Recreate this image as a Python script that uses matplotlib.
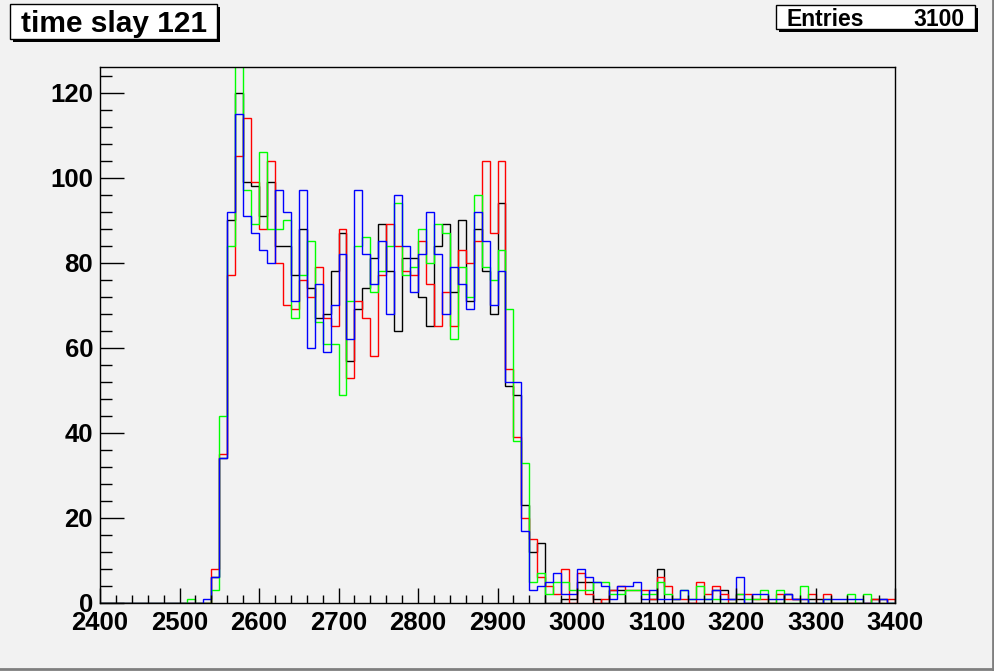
"""
time slay 121 -- four overlaid step histograms, ROOT style
"""

import numpy as np
import matplotlib
matplotlib.use("Agg")
import matplotlib.pyplot as plt
from matplotlib.patches import Rectangle
from matplotlib.lines import Line2D
from matplotlib.ticker import MultipleLocator

plt.rcParams['font.family'] = ['Liberation Sans', 'DejaVu Sans']

# 100 bins of width 10 from 2400 to 3400
edges = np.arange(2400, 3401, 10)

black = [0, 0, 0, 0, 0, 0, 0, 0, 0, 0,
         0, 0, 0, 0, 6, 34, 90, 120, 99, 98,
         91, 99, 84, 84, 77, 88, 74, 67, 68, 78,
         87, 57, 69, 74, 81, 89, 78, 64, 81, 81,
         72, 65, 84, 89, 73, 90, 71, 88, 78, 68,
         94, 51, 49, 23, 12, 14, 0, 0, 1, 1,
         5, 5, 1, 0, 3, 3, 0, 0, 0, 1,
         8, 0, 0, 0, 0, 0, 0, 3, 3, 1,
         1, 0, 0, 0, 0, 0, 2, 1, 0, 1,
         1, 0, 0, 0, 0, 0, 0, 1, 1, 0]

red = [0, 0, 0, 0, 0, 0, 0, 0, 0, 0,
       0, 0, 0, 0, 8, 35, 77, 105, 114, 99,
       88, 104, 80, 70, 69, 76, 72, 79, 67, 65,
       88, 53, 71, 67, 58, 77, 89, 84, 78, 77,
       85, 75, 65, 73, 65, 83, 80, 85, 104, 87,
       104, 55, 39, 20, 15, 6, 4, 2, 8, 0,
       7, 2, 0, 1, 3, 4, 3, 3, 3, 1,
       6, 4, 1, 1, 0, 5, 2, 4, 2, 0,
       2, 2, 1, 1, 0, 2, 1, 1, 1, 2,
       0, 2, 0, 0, 0, 0, 0, 1, 0, 1]

green = [0, 0, 0, 0, 0, 0, 0, 0, 0, 0,
         0, 1, 0, 0, 3, 44, 84, 131, 97, 89,
         106, 88, 88, 90, 67, 77, 85, 66, 61, 61,
         49, 71, 84, 86, 73, 78, 84, 94, 77, 79,
         88, 80, 89, 87, 62, 79, 72, 96, 79, 76,
         83, 69, 38, 33, 5, 7, 2, 5, 5, 3,
         3, 3, 5, 5, 2, 2, 3, 3, 2, 2,
         5, 2, 1, 3, 1, 4, 1, 1, 0, 0,
         2, 1, 1, 3, 0, 3, 0, 0, 4, 0,
         0, 1, 0, 0, 2, 0, 2, 0, 0, 0]

blue = [0, 0, 0, 0, 0, 0, 0, 0, 0, 0,
        0, 0, 0, 1, 6, 34, 92, 115, 91, 87,
        83, 80, 97, 92, 71, 97, 60, 75, 59, 70,
        82, 62, 97, 82, 75, 85, 68, 96, 84, 73,
        82, 92, 82, 68, 79, 75, 69, 92, 85, 70,
        78, 52, 52, 17, 3, 4, 5, 7, 2, 2,
        8, 6, 5, 4, 1, 4, 4, 5, 1, 3,
        1, 1, 1, 3, 1, 1, 1, 3, 1, 1,
        6, 0, 2, 2, 1, 1, 2, 1, 1, 0,
        0, 1, 1, 1, 1, 1, 0, 0, 1, 0]

series = [(black, '#000000'), (red, '#ff0000'), (green, '#00ff00'), (blue, '#0000ff')]

W, H = 995, 671
bg = '#f2f2f2'
fig = plt.figure(figsize=(W / 100, H / 100), dpi=100, facecolor=bg)

# plot frame 100..895 x 67..603 (pixels)
ax = fig.add_axes([100 / W, (H - 603) / H, 795 / W, (603 - 67) / H])
ax.set_facecolor(bg)

for vals, col in series:
    ax.stairs(vals, edges, color=col, linewidth=1.0, baseline=0)

ax.set_xlim(2400, 3400)
ax.set_ylim(0, 126)

ax.xaxis.set_major_locator(MultipleLocator(100))
ax.xaxis.set_minor_locator(MultipleLocator(20))
ax.yaxis.set_major_locator(MultipleLocator(20))
ax.yaxis.set_minor_locator(MultipleLocator(4))
ax.tick_params(axis='x', which='major', direction='in', length=11, width=1, pad=6)
ax.tick_params(axis='x', which='minor', direction='in', length=5.5, width=1)
ax.tick_params(axis='y', which='major', direction='in', length=17, width=1, pad=5)
ax.tick_params(axis='y', which='minor', direction='in', length=8.5, width=1)
for lab in ax.get_xticklabels() + ax.get_yticklabels():
    lab.set_fontweight('bold')
    lab.set_fontsize(18.5)
for lab in ax.get_yticklabels():
    lab.set_verticalalignment('center_baseline')

for s in ax.spines.values():
    s.set_color('black')
    s.set_linewidth(1)

# title box with shadow
def box(x0, y0, x1, y1):
    sh = Rectangle((x0 + 3, H - y1 - 3), x1 - x0, y1 - y0, transform=None,
                   facecolor='black', edgecolor='none')
    fr = Rectangle((x0, H - y1), x1 - x0, y1 - y0, transform=None,
                   facecolor='white', edgecolor='black', linewidth=1)
    fig.patches.extend([sh, fr])

box(10, 4, 217, 39)
fig.text(114 / W, 1 - 31.5 / H, 'time slay 121', ha='center', va='baseline',
         fontsize=21.5, fontweight='bold')

box(776, 5, 975, 29)
fig.text(787 / W, 1 - 26 / H, 'Entries', ha='left', va='baseline',
         fontsize=16.5, fontweight='bold')
fig.text(965 / W, 1 - 26 / H, '3100', ha='right', va='baseline',
         fontsize=16.5, fontweight='bold')

# canvas bevel
fig.lines.append(Line2D([993 / W, 993 / W], [0, 1], transform=fig.transFigure,
                        color='#7f7f7f', linewidth=2))
fig.lines.append(Line2D([0, 1], [2 / H, 2 / H], transform=fig.transFigure,
                        color='#7f7f7f', linewidth=2))

fig.savefig('out.png', dpi=100, facecolor=bg)
